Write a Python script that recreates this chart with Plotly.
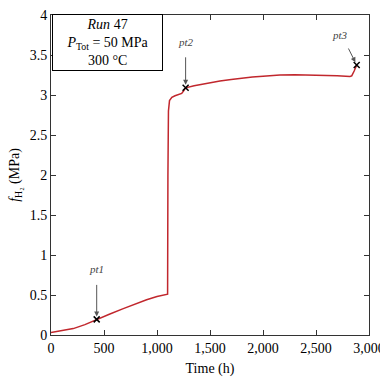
import plotly.graph_objects as go

time_h = [0, 100, 210, 320, 431, 550, 682, 800, 902, 1000, 1100, 1103, 1108, 1118, 1140, 1170, 1200, 1233, 1250, 1270,
          1350, 1405, 1500, 1594, 1700, 1783, 1900, 2000, 2160, 2300, 2538, 2700, 2820, 2837, 2860, 2884]
f_h2 = [0.03, 0.05, 0.08, 0.13, 0.195, 0.26, 0.33, 0.39, 0.44, 0.48, 0.51, 2.0, 2.80, 2.93, 2.97, 2.99, 3.00, 3.02, 3.05, 3.09,
        3.115, 3.13, 3.155, 3.175, 3.195, 3.21, 3.225, 3.235, 3.25, 3.252, 3.25, 3.24, 3.23, 3.24, 3.30, 3.375]

pt_names = ["pt1", "pt2", "pt3"]
pt_time = [431, 1270, 2884]
pt_f = [0.195, 3.09, 3.375]

x_ticks = [0, 500, 1000, 1500, 2000, 2500, 3000]
y_ticks = [0, 0.5, 1, 1.5, 2, 2.5, 3, 3.5, 4]

FONT = "Liberation Serif"

fig = go.Figure()
fig.add_trace(go.Scatter(x=time_h, y=f_h2, mode="lines",
                         line=dict(color="#c1272d", width=1.5), showlegend=False))
fig.add_trace(go.Scatter(x=pt_time, y=pt_f, mode="markers",
                         marker=dict(symbol="x-thin", size=6, line=dict(color="black", width=1.5)),
                         showlegend=False))

# arrows (tail offsets in pixels) and labels
arrow_off = [(0, -36), (0, -32), (-9, -18)]
label_off = [(0, -50), (0, -46), (-17, -30)]
for name, tx, ty, (ax, ay), (lx, ly) in zip(pt_names, pt_time, pt_f, arrow_off, label_off):
    fig.add_annotation(x=tx, y=ty, ax=ax, ay=ay, text="", showarrow=True,
                       arrowhead=2, arrowsize=1, arrowwidth=1, arrowcolor="#555555", standoff=3)
    fig.add_annotation(x=tx, y=ty, text="<i>%s</i>" % name, showarrow=False,
                       xshift=lx, yshift=-ly, font=dict(family=FONT, size=11, color="#444444"))

fig.add_annotation(xref="paper", yref="paper", x=0.003, y=1.003, xanchor="left", yanchor="top",
                   text="<i>Run</i> 47<br><i>P</i><sub>Tot</sub> = 50 MPa<br>300 °C",
                   showarrow=False, align="center", bgcolor="white",
                   bordercolor="black", borderwidth=1, borderpad=2, width=105,
                   font=dict(family=FONT, size=14, color="black"))

axis_common = dict(showline=True, linecolor="#333333", linewidth=1, mirror="ticks",
                   ticks="inside", ticklen=5, tickcolor="#333333", showgrid=False, zeroline=False,
                   automargin=False, tickfont=dict(family=FONT, size=14, color="black"))

fig.update_xaxes(range=[0, 3000], tickvals=x_ticks, tickformat=",d", ticklabeloverflow="allow",
                 title=dict(text="Time (h)", font=dict(family=FONT, size=14, color="black"), standoff=8),
                 **axis_common)
fig.update_yaxes(range=[0, 4], tickvals=y_ticks,
                 title=dict(text="<i>f</i><sub>H₂</sub> (MPa)", font=dict(family=FONT, size=14, color="black"), standoff=6),
                 **axis_common)

fig.update_layout(width=380, height=382, margin=dict(l=51, r=11, t=15, b=47),
                  plot_bgcolor="white", paper_bgcolor="white")

fig.write_html("out.html")
